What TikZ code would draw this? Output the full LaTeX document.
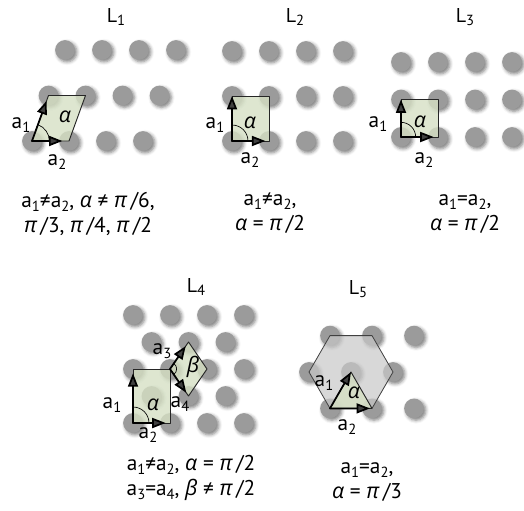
\documentclass[tikz,border=0pt]{standalone}
\usepackage{fontspec}
\setmainfont{PT Sans}
\newfontfamily\grk{Open Sans}
\usetikzlibrary{arrows.meta,shadows.blur,calc}
\newcommand{\lsub}[1]{\raisebox{-0.35ex}{\fontsize{11}{11}\selectfont #1}}
\newcommand{\al}{{\grk\itshape α}}
\newcommand{\be}{{\grk\itshape β}}
\newcommand{\pii}{{\grk\itshape π}}
\begin{document}
\begin{tikzpicture}[x=0.75pt, y=-0.75pt, line cap=round, line join=round,
	dot/.style={fill=dotgray, blur shadow={shadow xshift=1.5pt, shadow yshift=-1.5pt, shadow blur radius=2.5pt, shadow opacity=50}},
	cell/.style={draw=black!85, line width=0.7pt, fill=cellgreen, fill opacity=0.8},
	vec/.style={-{Triangle[length=10pt,width=7.5pt]}, line width=1.3pt},
	lbl/.style={font=\fontsize{16}{16}\selectfont, inner sep=0pt},
	capt/.style={font=\fontsize{16}{18.5}\selectfont, align=center, inner sep=0pt},
	ttl/.style={font=\fontsize{15}{15}\selectfont, inner sep=0pt}]
			\definecolor{dotgray}{RGB}{155, 155, 155}
			\definecolor{cellgreen}{RGB}{214, 224, 196}
			\definecolor{hexgray}{RGB}{200, 200, 200}
			\useasboundingbox (0, 0) rectangle (524, 510);
			% L1, oblique
			\foreach \j in {0,1,2}
				\foreach \i in {0,...,3}
					\path[dot] (32+37*\i+16.5*\j, 141-45.5*\j) circle[radius=7.4pt];
			% L2, rectangular
			\foreach \j in {0,1,2}
				\foreach \i in {0,...,3}
					\path[dot] (232+37*\i, 141-45*\j) circle[radius=7.4pt];
			% L3, square
			\foreach \j in {0,1,2}
				\foreach \i in {0,...,3}
					\path[dot] (401+37*\i, 137-37.5*\j) circle[radius=7.4pt];
			% L4, centered rectangular
			\foreach \j in {0,2,4}
				\foreach \i in {0,...,3}
					\path[dot] (133+37*\i, 423-27*\j) circle[radius=7.4pt];
			\foreach \j in {1,3}
				\foreach \i in {0,...,2}
					\path[dot] (151.5+37*\i, 423-27*\j) circle[radius=7.4pt];
			% L5, hexagonal
			\foreach \p in {(330,335.6), (372,335.6), (414,335.6), (309,372), (351,372), (393,372), (330,408.4), (372,408.4), (414,408.4)}
				\path[dot] \p circle[radius=7.4pt];
			\draw[draw=black!75, line width=0.6pt, fill=hexgray, fill opacity=0.7] (393, 372) -- (372, 335.6) -- (330, 335.6) -- (309, 372) -- (330, 408.4) -- (372, 408.4) -- cycle;

			% unit cells
			\coordinate (o1) at (32, 141); \coordinate (p1) at (48.5, 95.5); \coordinate (q1) at (69, 141);
			\draw[cell] (o1) -- (q1) -- ($(q1)+(p1)-(o1)$) -- (p1) -- cycle;
			\draw[line width=0.5pt] (o1) ++(0:13pt) arc[start angle=0, end angle=70, radius=13pt];
			\draw[vec] (o1) -- ($(o1)!0.88!(p1)$);
			\draw[vec] (o1) -- ($(o1)!0.82!(q1)$);

			\coordinate (o2) at (232, 141); \coordinate (p2) at (232, 96); \coordinate (q2) at (269, 141);
			\draw[cell] (o2) rectangle ($(q2)+(p2)-(o2)$);
			\draw[line width=0.5pt] (o2) ++(0:12pt) arc[start angle=0, end angle=90, radius=12pt];
			\draw[vec] (o2) -- (p2);
			\draw[vec] (o2) -- ($(o2)!0.9!(q2)$);

			\coordinate (o3) at (401, 137); \coordinate (p3) at (401, 99.5); \coordinate (q3) at (438, 137);
			\draw[cell] (o3) rectangle ($(q3)+(p3)-(o3)$);
			\draw[line width=0.5pt] (o3) ++(0:11pt) arc[start angle=0, end angle=90, radius=11pt];
			\draw[vec] (o3) -- (p3);
			\draw[vec] (o3) -- ($(o3)!0.88!(q3)$);

			\coordinate (o4) at (133, 423); \coordinate (p4) at (133, 369); \coordinate (q4) at (170, 423);
			\draw[cell] (o4) rectangle ($(q4)+(p4)-(o4)$);
			\draw[line width=0.5pt] (o4) ++(0:12pt) arc[start angle=0, end angle=90, radius=12pt];
			\draw[vec] (o4) -- ($(o4)!0.92!(p4)$);
			\draw[vec] (o4) -- ($(o4)!0.88!(q4)$);

			\coordinate (r4) at (170, 369); \coordinate (s4) at (188.5, 342); \coordinate (t4) at (188.5, 396);
			\draw[cell] (r4) -- (s4) -- (207, 369) -- (t4) -- cycle;
			\draw[line width=0.5pt] (r4) ++(-55.6:5pt) arc[start angle=-55.6, end angle=55.6, radius=5pt];
			\draw[vec] (r4) -- ($(r4)!0.85!(s4)$);
			\draw[vec] (r4) -- ($(r4)!0.88!(t4)$);

			\coordinate (o5) at (330, 408.4); \coordinate (p5) at (351, 372); \coordinate (q5) at (372, 408.4);
			\draw[cell] (o5) -- (q5) -- (p5) -- cycle;
			\draw[vec] (o5) -- (p5);
			\draw[vec] (o5) -- ($(o5)!0.95!(q5)$);

			% titles
			\node[ttl] (t1) at (116, 17) {L\lsub{1}};
			\node[ttl] (t2) at (295, 17) {L\lsub{2}};
			\node[ttl] (t3) at (465, 17) {L\lsub{3}};
			\node[ttl] (t4) at (196, 287) {L\lsub{4}};
			\node[ttl] (t5) at (358, 289) {L\lsub{5}};

			% vector labels
			\node[lbl] (a11) at (21, 125) {a\lsub{1}};
			\node[lbl] (a21) at (57, 162) {a\lsub{2}};
			\node[lbl] (al1) at (65, 117) {\al};
			\node[lbl] (a12) at (215, 125) {a\lsub{1}};
			\node[lbl] (a22) at (250, 160) {a\lsub{2}};
			\node[lbl] (al2) at (250, 123) {\al};
			\node[lbl] (a13) at (378, 124) {a\lsub{1}};
			\node[lbl] (a23) at (424, 160) {a\lsub{2}};
			\node[lbl] (al3) at (420, 122) {\al};
			\node[lbl] (a14) at (112, 405) {a\lsub{1}};
			\node[lbl] (a24) at (148, 435) {a\lsub{2}};
			\node[lbl] (al4) at (153, 405) {\al};
			\node[lbl] (a34) at (162, 351) {a\lsub{3}};
			\node[lbl] (a44) at (180, 404) {a\lsub{4}};
			\node[lbl] (be4) at (193, 367) {\be};
			\node[lbl] (a15) at (324, 383) {a\lsub{1}};
			\node[lbl] (a25) at (347, 427) {a\lsub{2}};
			\node[lbl] (al5) at (354, 393) {\al};

			% conditions
			\node[capt] (c1) at (88, 214) {a\lsub{1}≠a\lsub{2}, \al{} ≠ \pii\,/6,\\ \pii\,/3, \pii\,/4, \pii\,/2};
			\node[capt] (c2) at (270, 213) {a\lsub{1}≠a\lsub{2},\\ \al{} = \pii\,/2};
			\node[capt] (c3) at (465, 214) {a\lsub{1}=a\lsub{2},\\ \al{} = \pii\,/2};
			\node[capt] (c4) at (191, 478) {a\lsub{1}≠a\lsub{2}, \al{} = \pii\,/2\\ a\lsub{3}=a\lsub{4}, \be{} ≠ \pii\,/2};
			\node[capt] (c5) at (367, 482) {a\lsub{1}=a\lsub{2},\\ \al{} = \pii\,/3};
		\end{tikzpicture}
\end{document}
